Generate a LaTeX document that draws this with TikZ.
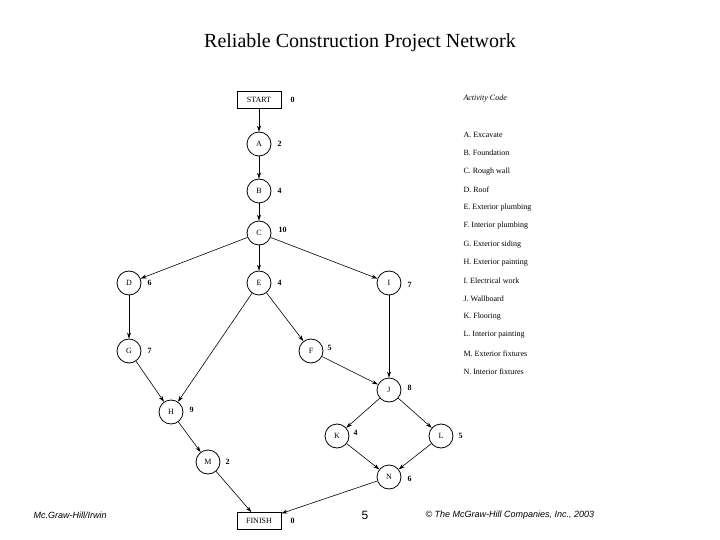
\documentclass[tikz,border=0pt]{standalone}
\usepackage{fontspec}
\setmainfont{Liberation Serif}
\newfontfamily\footfont{Liberation Sans}
\usetikzlibrary{arrows.meta}
\begin{document}
\begin{tikzpicture}[x=1pt,y=-1pt,
  act/.style={circle,draw,thick,minimum size=24pt,inner sep=0pt,font=\fontsize{8}{9}\selectfont},
  endbox/.style={draw,thick,minimum width=44pt,minimum height=17pt,inner sep=0pt,font=\fontsize{8}{9}\selectfont},
  dur/.style={font=\bfseries\fontsize{8}{9}\selectfont,anchor=west},
  leg/.style={font=\fontsize{8}{9}\selectfont,anchor=west},
  arr/.style={-{Stealth[length=6pt,width=4pt]},semithick}]
\useasboundingbox (0,0) rectangle (720,540);
\fill[white] (0,0) rectangle (720,540);
\node[font=\fontsize{20}{24}\selectfont] (title) at (360,43) {Reliable Construction Project Network};
\node[endbox] (S) at (259,100) {START};
\node[act] (A) at (259,144) {A};
\node[act] (B) at (259,191) {B};
\node[act] (C) at (259,233) {C};
\node[act] (D) at (129,283) {D};
\node[act] (E) at (259,283) {E};
\node[act] (I) at (389,283) {I};
\node[act] (G) at (129,351) {G};
\node[act] (F) at (311,351) {F};
\node[act] (J) at (389,390) {J};
\node[act] (H) at (171,412) {H};
\node[act] (K) at (337,436) {K};
\node[act] (L) at (441,436) {L};
\node[act] (M) at (208,462) {M};
\node[act] (N) at (389,477) {N};
\node[endbox] (Fin) at (259,521) {FINISH};
\foreach \n/\x/\y/\t in {s/287/100/0,a/274/144/2,b/274/191/4,c/275/230/10,d/144/283/6,e/274/283/4,i/404/285/7,g/144/351/7,f/324/348/5,j/404/388/8,h/186/410/9,k/350/433/4,l/455/436/5,m/222/462/2,n/404/479/6,fin/287/521/0}
  \node[dur] (d\n) at (\x,\y) {\t};
\foreach \u/\v in {S/A,A/B,B/C,C/D,C/E,C/I,D/G,E/F,E/H,G/H,F/J,I/J,J/K,J/L,H/M,K/N,L/N,M/Fin,N/Fin}
  \draw[arr] (\u) -- (\v);
\node[leg,font=\itshape\fontsize{8}{9}\selectfont] (lh) at (460,99) {Activity Code};
\foreach \i/\t in {0/A. Excavate,1/B. Foundation,2/C. Rough wall,3/D. Roof,4/E. Exterior plumbing,5/F. Interior plumbing,6/G. Exterior siding,7/H. Exterior painting,8/I. Electrical work,9/J. Wallboard,10/K. Flooring,11/L. Interior painting,12/M. Exterior fixtures,13/N. Interior fixtures}
  \node[leg] (l\i) at (460,135+18.2*\i) {\t};
\node[anchor=west,font=\footfont\itshape\fontsize{9}{11}\selectfont] (f1) at (30,515) {Mc.Graw-Hill/Irwin};
\node[font=\footfont\fontsize{12}{14}\selectfont] (f2) at (365,515) {5};
\node[anchor=west,font=\footfont\itshape\fontsize{9}{11}\selectfont] (f3) at (422,515) {© The McGraw-Hill Companies, Inc., 2003};
\end{tikzpicture}
\end{document}
